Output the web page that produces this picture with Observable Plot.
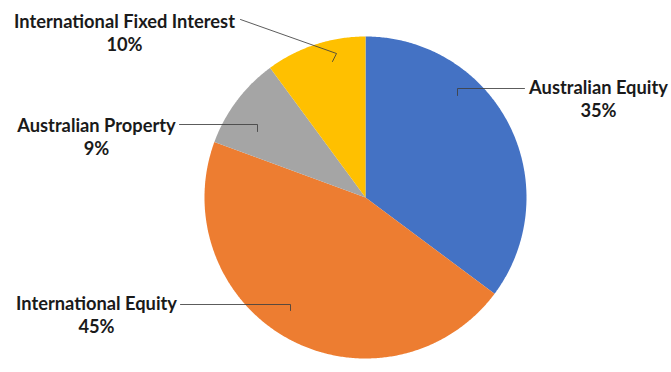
<!DOCTYPE html>
<html><head><meta charset="utf-8">
<script src="https://cdn.jsdelivr.net/npm/d3@7"></script>
<script src="https://cdn.jsdelivr.net/npm/@observablehq/plot@0.6"></script>
<style>
html,body{margin:0;padding:0;background:#fff;}
</style>
</head><body>
<div id="chart"></div>
<script>
// Data
const categories = ["Australian Equity", "International Equity", "Australian Property", "International Fixed Interest"];
const values = [35.2, 45.4, 9.3, 10.1];
const pctLabels = ["35%", "45%", "9%", "10%"];
const colors = ["#4472C4", "#ED7D31", "#A5A5A5", "#FFC000"];

// Layout (pixels)
const W = 671, H = 372;
const cx = 365, cy = 197, R = 161;
// label layout: text centre x, name baseline y, leader line points [label end, corner, tick end]
const labelLayout = [
  {tx: 598, ty: 93, leader: [[524, 88], [457, 88], [457, 95]]},
  {tx: 96, ty: 309, leader: [[180, 304], [290, 304], [290, 310]]},
  {tx: 96, ty: 131, leader: [[179, 124], [257, 124], [257, 131]]},
  {tx: 124, ty: 27, leader: [[240, 19], [336, 53], [332, 61]]}
];

const px = x => (x - cx) / R;
const py = y => (cy - y) / R;

const pie = d3.pie().sort(null).value(d => d.value)(categories.map((c, i) => ({name: c, value: values[i]})));
const pts = [];
for (const s of pie) {
  const name = s.data.name;
  pts.push({name, x: 0, y: 0});
  const n = Math.max(2, Math.ceil((s.endAngle - s.startAngle) / (Math.PI / 360)));
  for (let k = 0; k <= n; k++) {
    const a = s.startAngle + (s.endAngle - s.startAngle) * k / n;
    pts.push({name, x: Math.sin(a), y: Math.cos(a)});
  }
  pts.push({name, x: 0, y: 0});
}

const leaders = [];
labelLayout.forEach((l, i) => l.leader.forEach(p => leaders.push({name: categories[i], x: px(p[0]), y: py(p[1])})));
const names = labelLayout.map((l, i) => ({text: categories[i], x: px(l.tx), y: py(l.ty)}));
const pcts = labelLayout.map((l, i) => ({text: pctLabels[i], x: px(l.tx), y: py(l.ty + 23)}));

const plot = Plot.plot({
  width: W, height: H,
  margin: 0,
  x: {domain: [-1, 1], range: [cx - R, cx + R], axis: null},
  y: {domain: [-1, 1], range: [cy + R, cy - R], axis: null},
  color: {domain: categories, range: colors},
  style: {fontFamily: "Lato, sans-serif", background: "#fff"},
  marks: [
    Plot.line(pts, {x: "x", y: "y", z: "name", fill: "name", stroke: null, curve: "linear"}),
    Plot.line(leaders, {x: "x", y: "y", z: "name", stroke: "#404040", strokeWidth: 1, strokeOpacity: 0.85}),
    Plot.text(names, {x: "x", y: "y", text: "text", lineAnchor: "bottom", textAnchor: "middle", fontSize: 18.3, fontWeight: "bold", fill: "#1a1a1a"}),
    Plot.text(pcts, {x: "x", y: "y", text: "text", lineAnchor: "bottom", textAnchor: "middle", fontSize: 18.3, fontWeight: "bold", fill: "#1a1a1a"})
  ]
});
document.getElementById("chart").appendChild(plot);
</script>
</body></html>
